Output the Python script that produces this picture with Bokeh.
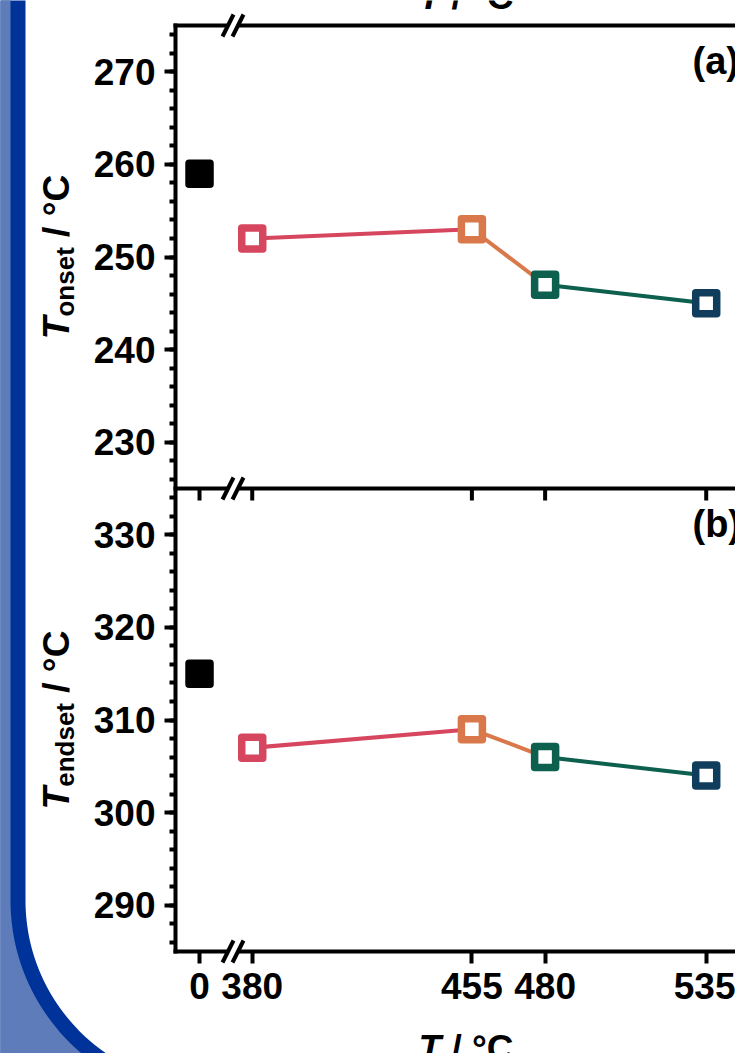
import numpy as np
from bokeh.plotting import figure
from bokeh.models import (FixedTicker, SingleIntervalTicker, ColumnDataSource, Range1d,
                          LinearAxis, GridBox)
from bokeh.core.properties import value
from bokeh.embed import file_html
from bokeh.resources import INLINE

# ---------------- data ----------------
temps = [0, 380, 455, 480, 535]                 # x categories (°C), axis broken between 0 and 380
t_onset = [259, 252, 253, 247, 245]             # panel (a)
t_endset = [315, 307, 309, 306, 304]            # panel (b)
point_colors = ["#000000", "#d6465f", "#d9784a", "#0d5f4e", "#113d5c"]
point_fills = ["#000000", "#ffffff", "#ffffff", "#ffffff", "#ffffff"]
panel_labels = ["(a)", "(b)"]
y_title_main = "T"
y_title_subs = ["onset", "endset"]
y_title_tail = "/ °C"
x_title = ["T", "/ °C"]
y_ranges = [(225, 275), (285, 335)]

# ---------------- style / geometry ----------------
FONT = "Liberation Sans"
W, H = 735, 1053
FL = 175                  # frame left (page px)
XL, XR = 353.8, 545.0     # x range in display units
ZERO_POS = 362.0          # display position of the 0 tick (left of the break)
FRAME_H = 463
HA, HB = 488, 565         # figure heights
BREAK_PX = 232.5
BREAK_LINES = [25, 488, 951]
LIGHT = "#5e7cb9"
DARK = "#003399"
SHIFT = 14                # baseline correction for text glyphs

# Arial/Liberation Sans bold advance widths (em)
ADV = {"T": .611, "o": .611, "n": .611, "s": .556, "e": .556, "t": .333, "d": .611,
       " ": .278, "/": .278, "°": .400, "C": .722}


def tw(s, size):
    return sum(ADV[c] for c in s) * size


def brk(v):
    return v if v >= 380 else ZERO_POS


xt = [brk(t) for t in temps]
overrides = {brk(t): str(t) for t in temps}


def base_fig(height, yr, top, bottom):
    p = figure(width=W, height=height, x_range=Range1d(XL, XR), y_range=Range1d(*yr),
               x_axis_location=None, output_backend="svg", toolbar_location=None, title=None,
               min_border_left=FL, min_border_right=0, min_border_top=top, min_border_bottom=bottom,
               outline_line_color=None, background_fill_color="white", border_fill_color="white",
               frame_align=False)
    p.grid.visible = False
    a = p.yaxis[0]
    a.ticker = SingleIntervalTicker(interval=10, num_minor_ticks=5)
    a.axis_line_width = 4
    a.axis_line_cap = "square"
    a.major_tick_line_width = 4
    a.major_tick_out = 11
    a.major_tick_in = 0
    a.minor_tick_line_width = 4
    a.minor_tick_out = 6
    a.minor_tick_in = 0
    a.major_label_text_font = FONT
    a.major_label_text_font_style = "bold"
    a.major_label_text_font_size = "37px"
    a.major_label_text_color = "black"
    a.major_label_standoff = 9
    return p


def line_axis(p, side):
    ax = LinearAxis(ticker=FixedTicker(ticks=[], minor_ticks=[]), axis_line_width=4,
                    axis_line_cap="square", major_tick_out=0, major_tick_in=0,
                    minor_tick_out=0, minor_tick_in=0, major_label_standoff=0)
    p.add_layout(ax, side)


def draw_series(p, vals):
    xs = [brk(t) for t in temps]
    seg = ColumnDataSource(dict(x0=xs[1:-1], y0=vals[1:-1], x1=xs[2:], y1=vals[2:],
                                c=point_colors[1:-1]))
    p.segment("x0", "y0", "x1", "y1", source=seg, line_color="c", line_width=4)
    src = ColumnDataSource(dict(x=xs, y=vals, lc=point_colors, fc=point_fills))
    p.scatter("x", "y", source=src, marker="square", size=21, line_width=7.5,
              line_color="lc", fill_color="fc", line_join="round")


# ---------------- panel (a) ----------------
pa = base_fig(HA, y_ranges[0], 25, 0)
line_axis(pa, "above")
line_axis(pa, "below")
draw_series(pa, t_onset)

# ---------------- panel (b) ----------------
pb = base_fig(HB, y_ranges[1], 0, HB - FRAME_H)
line_axis(pb, "above")
bx = LinearAxis(ticker=FixedTicker(ticks=xt, minor_ticks=[]), major_label_overrides=overrides,
                axis_line_width=4, axis_line_cap="square", major_tick_line_width=4,
                major_tick_out=12, major_tick_in=0, minor_tick_line_color=None,
                major_label_text_font=FONT, major_label_text_font_style="bold",
                major_label_text_font_size="37px", major_label_text_color="black",
                major_label_standoff=9)
pb.add_layout(bx, "below")
# tick marks of the shared middle axis (pointing down into panel b)
tick_len = 12 * (y_ranges[1][1] - y_ranges[1][0]) / FRAME_H
mid = ColumnDataSource(dict(x=xt, y0=[y_ranges[1][1]] * len(xt),
                            y1=[y_ranges[1][1] - tick_len] * len(xt)))
pb.segment("x", "y0", "x", "y1", source=mid, line_color="black", line_width=4)
draw_series(pb, t_endset)

# ---------------- overlay: decoration, titles, axis breaks (page pixel space) ----------------
ov = figure(width=W, height=H, x_range=Range1d(0, W), y_range=Range1d(H, 0),
            x_axis_location=None, y_axis_location=None, output_backend="svg",
            toolbar_location=None, title=None, min_border=0,
            min_border_left=0, min_border_right=0, min_border_top=0, min_border_bottom=0,
            outline_line_color=None, background_fill_color=None, border_fill_color=None,
            frame_align=False)
ov.grid.visible = False


def curve_x(y, x0, R, y0=900.0):
    if y <= y0:
        return x0
    d = min(y - y0, R)
    return x0 + R - np.sqrt(R * R - d * d)


ys = np.linspace(-20, 1080, 400)
for x0, R, col in [(25, 185, DARK), (10, 200, LIGHT)]:
    xs = [-20] + [curve_x(y, x0, R) for y in ys] + [-20]
    yy = [-20] + list(ys) + [1080]
    ov.patch(xs, yy, fill_color=col, line_color=None)

# axis breaks
for ly in BREAK_LINES:
    ov.segment(x0=[BREAK_PX - 5], y0=[ly], x1=[BREAK_PX + 5], y1=[ly], line_color="white", line_width=8)
    for c in (BREAK_PX - 5, BREAK_PX + 5):
        ov.segment(x0=[c - 5.5], y0=[ly + 11], x1=[c + 5.5], y1=[ly - 11], line_color="black",
                   line_width=4)


def otext(x, y, t, size, style, angle=0.0):
    if angle:
        x = x - SHIFT
    else:
        y = y - SHIFT
    ov.text(x=[x], y=[y], text=[t], angle=angle, text_font=value(FONT), text_font_style=style,
            text_font_size=f"{size}px", text_color="black", text_align="left",
            text_baseline="alphabetic")


# y titles (rotated)
for i, yc in enumerate([256.5, 719.5]):
    sub = y_title_subs[i]
    big, small = 37, 26
    total = tw("T", big) + tw(sub, small) + tw(" " + y_title_tail, big)
    y0 = yc + total / 2
    otext(70, y0, y_title_main, big, "bold italic", np.pi / 2)
    y1 = y0 - tw("T", big)
    otext(78, y1, sub, small, "bold", np.pi / 2)
    y2 = y1 - tw(sub, small) - tw(" ", big)
    otext(70, y2, y_title_tail, big, "bold", np.pi / 2)

# x titles (cut by the page edges)
for base in (10, 1062):
    otext(418, base, x_title[0], 37, "bold italic")
    otext(418 + tw("T ", 37), base, x_title[1], 37, "bold")

# panel letters
otext(692, 74, panel_labels[0], 38, "bold")
otext(692, 537, panel_labels[1], 38, "bold")

layout = GridBox(children=[(pa, 0, 0), (pb, 1, 0), (ov, 0, 0, 2, 1)], spacing=0)
open("out.html", "w").write(file_html(layout, INLINE))
